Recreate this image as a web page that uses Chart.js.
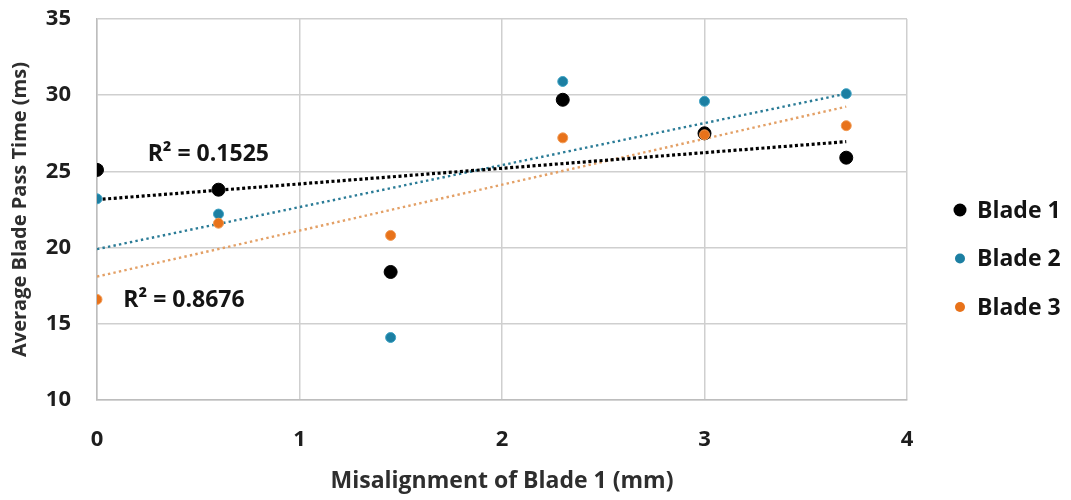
<!DOCTYPE html>
<html>
<head>
<meta charset="utf-8">
<script src="https://cdn.jsdelivr.net/npm/chart.js@4"></script>
<style>
html,body{margin:0;padding:0;background:#fff;}
#wrap{width:1071px;height:500px;position:relative;}
</style>
</head>
<body>
<div id="wrap"><canvas id="c" width="1071" height="500"></canvas></div>
<script>
// ---- data ----
const seriesNames = ['Blade 1', 'Blade 2', 'Blade 3'];
const misalignment = [0, 0.6, 1.45, 2.3, 3, 3.7];
const blade1 = [25.1, 23.8, 18.4, 29.7, 27.5, 25.9];
const blade2 = [23.2, 22.2, 14.1, 30.9, 29.6, 30.1];
const blade3 = [16.6, 21.6, 20.8, 27.2, 27.4, 28.0];
// trend line endpoints
const trendX = [0, 3.7];
const trend1 = [23.15, 26.95];
const trend2 = [19.9, 30.1];
const trend3 = [18.1, 29.25];
const r2Labels = ['R² = 0.1525', 'R² = 0.8676'];
const xTicks = [0, 1, 2, 3, 4];
const yTicks = [10, 15, 20, 25, 30, 35];

const pts = (xs, ys) => xs.map((x, i) => ({x: x, y: ys[i]}));

const colors = {
  b1: '#000000',
  b2: '#1c7fa2',
  b3: '#e8721a',
  t2: '#2a7b96',
  t3: '#e3a066'
};
const FONT = '"Open Sans", "DejaVu Sans", sans-serif';

const customLegend = {
  id: 'customLegend',
  afterDraw(chart) {
    const ctx = chart.ctx;
    const ca = chart.chartArea;
    const items = [
      {label: seriesNames[0], color: colors.b1, r: 6.5},
      {label: seriesNames[1], color: colors.b2, r: 5},
      {label: seriesNames[2], color: colors.b3, r: 5}
    ];
    ctx.save();
    ctx.font = 'bold 23px ' + FONT;
    ctx.textBaseline = 'middle';
    ctx.textAlign = 'left';
    items.forEach((it, i) => {
      const cy = ca.top + 191 + i * 48.5;
      const cx = ca.right + 53;
      ctx.beginPath();
      ctx.arc(cx, cy, it.r, 0, Math.PI * 2);
      ctx.fillStyle = it.color;
      ctx.fill();
      ctx.fillStyle = '#141414';
      ctx.fillText(it.label, cx + 17, cy + 1);
    });
    ctx.restore();
  }
};

const r2Plugin = {
  id: 'r2Plugin',
  afterDatasetsDraw(chart) {
    const ctx = chart.ctx;
    const xs = chart.scales.x, ys = chart.scales.y;
    const anchors = [{x: 0.25, y: 26.1}, {x: 0.13, y: 16.56}];
    ctx.save();
    ctx.font = 'bold 23px ' + FONT;
    ctx.fillStyle = '#141414';
    ctx.textBaseline = 'middle';
    ctx.textAlign = 'left';
    r2Labels.forEach((t, i) => {
      ctx.fillText(t, xs.getPixelForValue(anchors[i].x), ys.getPixelForValue(anchors[i].y));
    });
    ctx.restore();
  }
};

new Chart(document.getElementById('c'), {
  type: 'scatter',
  data: {
    datasets: [
      {label: 'Trend 1', type: 'line', data: pts(trendX, trend1), borderColor: colors.b1, borderWidth: 3.2, borderDash: [3, 2.6], pointRadius: 0, fill: false, order: 8},
      {label: 'Trend 2', type: 'line', data: pts(trendX, trend2), borderColor: colors.t2, borderWidth: 2.4, borderDash: [2.4, 3.2], pointRadius: 0, fill: false, order: 9},
      {label: 'Trend 3', type: 'line', data: pts(trendX, trend3), borderColor: colors.t3, borderWidth: 2.4, borderDash: [2.4, 3.2], pointRadius: 0, fill: false, order: 10},
      {label: seriesNames[0], data: pts(misalignment, blade1), backgroundColor: colors.b1, borderColor: colors.b1, pointRadius: 6.5, borderWidth: 1, order: 3},
      {label: seriesNames[1], data: pts(misalignment, blade2), backgroundColor: colors.b2, borderColor: '#3fa3c4', pointRadius: 5, borderWidth: 1, order: 2},
      {label: seriesNames[2], data: pts(misalignment, blade3), backgroundColor: colors.b3, borderColor: '#f09a55', pointRadius: 5, borderWidth: 1, order: 1}
    ]
  },
  options: {
    responsive: false,
    animation: false,
    layout: {padding: {left: 0, top: 0, right: 164, bottom: 0}},
    plugins: {
      legend: {display: false},
      tooltip: {enabled: false}
    },
    scales: {
      x: {
        type: 'linear', min: 0, max: 4,
        afterBuildTicks: (s) => { s.ticks = xTicks.map(v => ({value: v})); },
        afterFit: (s) => { s.height = 100; },
        grid: {color: '#cfcfcf', lineWidth: 1.5, drawTicks: false},
        border: {color: '#bdbdbd', width: 1.5},
        ticks: {padding: 27, color: '#1e1e1e', font: {family: FONT, size: 22, weight: 'bold'}},
        title: {display: true, text: 'Misalignment of Blade 1 (mm)', color: '#2e2e2e', padding: {top: 0, bottom: 5}, font: {family: FONT, size: 23, weight: 'bold'}}
      },
      y: {
        type: 'linear', min: 10, max: 35,
        afterBuildTicks: (s) => { s.ticks = yTicks.map(v => ({value: v})); },
        afterFit: (s) => { s.width = 97; s.paddingTop = 19; },
        grid: {color: '#cfcfcf', lineWidth: 1.5, drawTicks: false},
        border: {color: '#bdbdbd', width: 1.5},
        ticks: {padding: 26, color: '#1e1e1e', font: {family: FONT, size: 22, weight: 'bold'}},
        title: {display: true, text: 'Average Blade Pass Time (ms)', color: '#2e2e2e', padding: {top: 8, bottom: 0}, font: {family: FONT, size: 20, weight: 'bold'}}
      }
    }
  },
  plugins: [customLegend, r2Plugin]
});
</script>
</body>
</html>
